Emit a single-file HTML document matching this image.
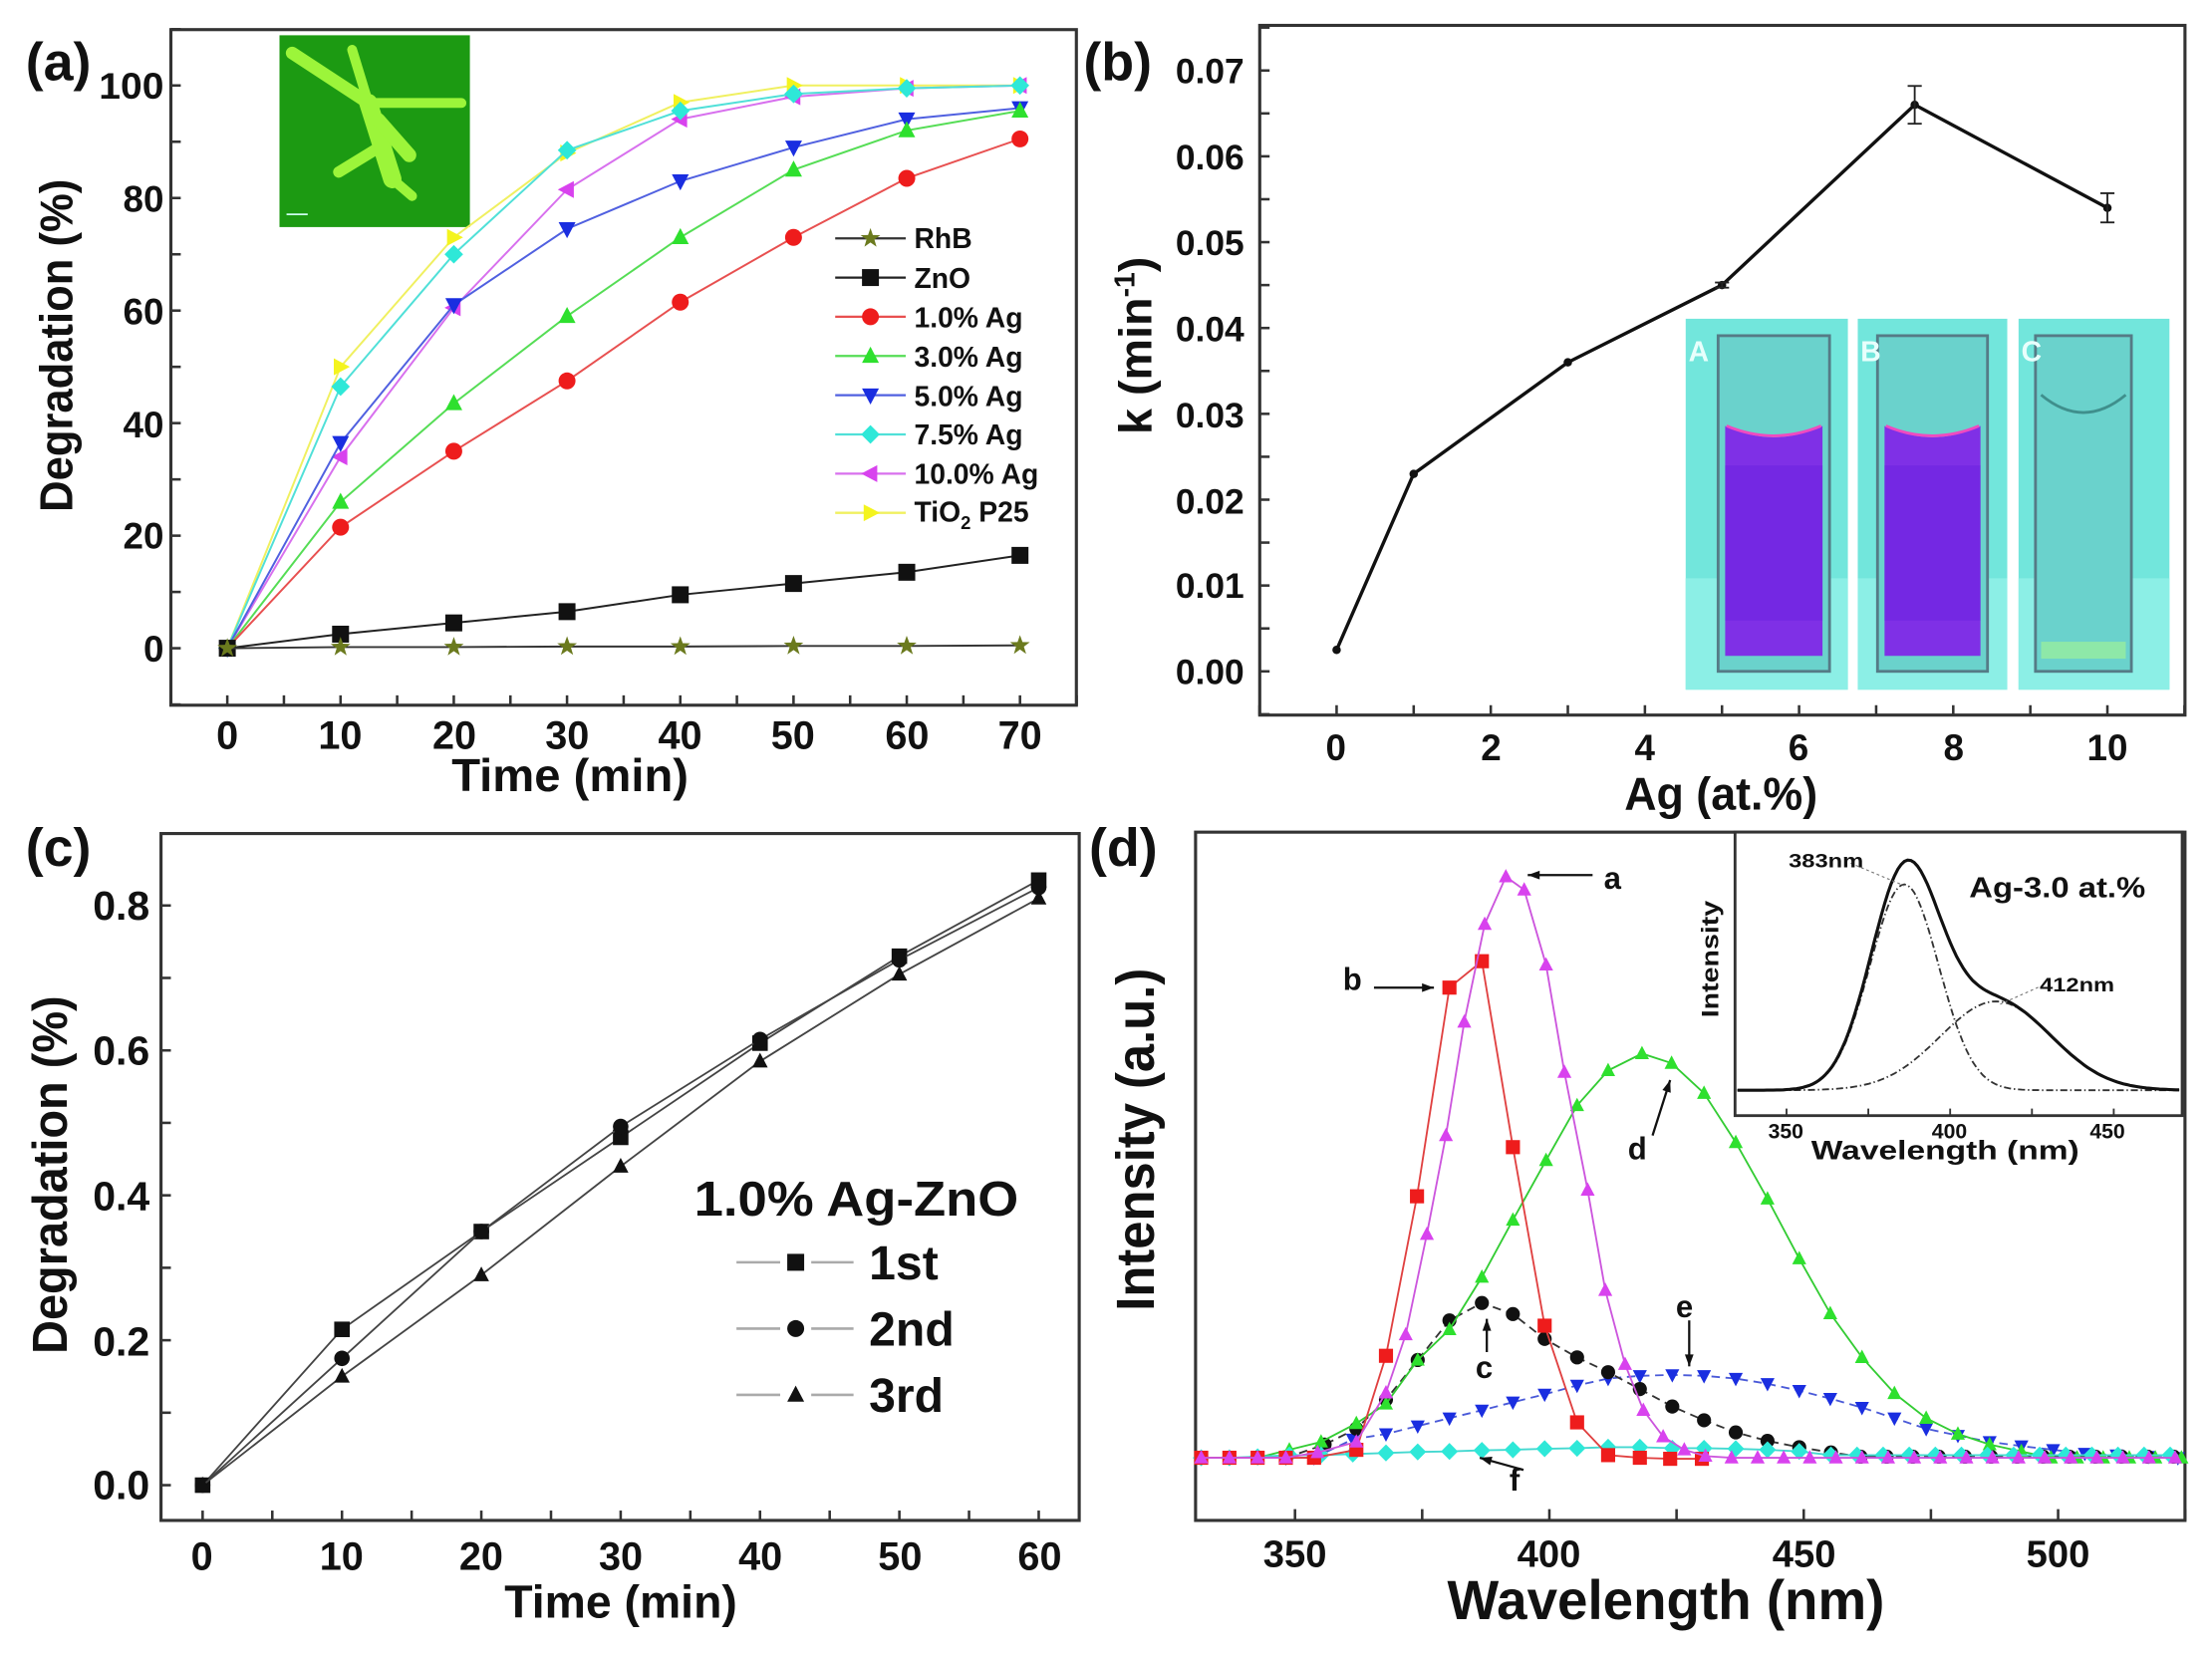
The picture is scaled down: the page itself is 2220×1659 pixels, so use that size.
<!DOCTYPE html>
<html><head><meta charset="utf-8"><style>
html,body{margin:0;padding:0;background:#fff;}
svg{display:block;}
text{font-family:"Liberation Sans",Arial,sans-serif;fill:#111;}
.b{font-weight:bold;}
</style></head><body>
<svg id="s" width="2220" height="1659" viewBox="0 0 1568 1172" xmlns="http://www.w3.org/2000/svg">
<rect width="1568" height="1172" fill="#fff"/>
<g id="shapes"></g>
<!-- Panel a text -->
<text x="18" y="57" class="b" font-size="38">(a)</text>
<g class="b" font-size="26" text-anchor="end">
<text x="116" y="70" textLength="46" lengthAdjust="spacingAndGlyphs">100</text>
<text x="116" y="150">80</text>
<text x="116" y="230">60</text>
<text x="116" y="310">40</text>
<text x="116" y="389">20</text>
<text x="116" y="469">0</text>
</g>
<g class="b" font-size="28" text-anchor="middle">
<text x="161" y="531">0</text><text x="241" y="531">10</text><text x="322" y="531">20</text><text x="402" y="531">30</text>
<text x="482" y="531">40</text><text x="562" y="531">50</text><text x="643" y="531">60</text><text x="723" y="531">70</text>
</g>
<text x="404" y="561" class="b" font-size="33" text-anchor="middle" textLength="168" lengthAdjust="spacingAndGlyphs">Time (min)</text>
<text transform="translate(51,245) rotate(-90)" font-size="33" text-anchor="middle" textLength="236" lengthAdjust="spacingAndGlyphs" style="font-weight:600">Degradation (%)</text>
<g class="b" font-size="20">
<text x="648" y="176">RhB</text><text x="648" y="204">ZnO</text><text x="648" y="232">1.0% Ag</text>
<text x="648" y="260">3.0% Ag</text><text x="648" y="288">5.0% Ag</text><text x="648" y="315">7.5% Ag</text>
<text x="648" y="343">10.0% Ag</text><text x="648" y="370">TiO<tspan font-size="13" dy="5">2</tspan><tspan dy="-5"> P25</tspan></text>
</g>
<!-- Panel b text -->
<text x="768" y="57" class="b" font-size="38">(b)</text>
<g class="b" font-size="25" text-anchor="end">
<text x="882" y="59">0.07</text><text x="882" y="120">0.06</text><text x="882" y="181">0.05</text><text x="882" y="242">0.04</text>
<text x="882" y="303">0.03</text><text x="882" y="364">0.02</text><text x="882" y="424">0.01</text><text x="882" y="485">0.00</text>
</g>
<g class="b" font-size="26" text-anchor="middle">
<text x="947" y="539">0</text><text x="1057" y="539">2</text><text x="1166" y="539">4</text>
<text x="1275" y="539">6</text><text x="1385" y="539">8</text><text x="1494" y="539">10</text>
</g>
<text x="1220" y="574" class="b" font-size="33" text-anchor="middle" textLength="137" lengthAdjust="spacingAndGlyphs">Ag (at.%)</text>
<text transform="translate(816,245) rotate(-90)" class="b" font-size="33" text-anchor="middle">k (min<tspan font-size="20" dy="-12">-1</tspan><tspan dy="12">)</tspan></text>
<!-- Panel c text -->
<text x="18" y="614" class="b" font-size="38">(c)</text>
<g class="b" font-size="29" text-anchor="end">
<text x="106" y="652">0.8</text><text x="106" y="755">0.6</text><text x="106" y="858">0.4</text>
<text x="106" y="961">0.2</text><text x="106" y="1063">0.0</text>
</g>
<g class="b" font-size="28" text-anchor="middle">
<text x="143" y="1113">0</text><text x="242" y="1113">10</text><text x="341" y="1113">20</text><text x="440" y="1113">30</text>
<text x="539" y="1113">40</text><text x="638" y="1113">50</text><text x="737" y="1113">60</text>
</g>
<text x="440" y="1147" class="b" font-size="33" text-anchor="middle" textLength="165" lengthAdjust="spacingAndGlyphs">Time (min)</text>
<text transform="translate(47,833) rotate(-90)" class="b" font-size="35" text-anchor="middle" textLength="254" lengthAdjust="spacingAndGlyphs">Degradation (%)</text>
<text x="492" y="862" class="b" font-size="35" textLength="230" lengthAdjust="spacingAndGlyphs">1.0% Ag-ZnO</text>
<g class="b" font-size="34">
<text x="616" y="907">1st</text><text x="616" y="954">2nd</text><text x="616" y="1001">3rd</text>
</g>
<!-- Panel d text -->
<text x="772" y="614" class="b" font-size="38">(d)</text>
<g class="b" font-size="27" text-anchor="middle">
<text x="918" y="1111">350</text><text x="1098" y="1111">400</text><text x="1279" y="1111">450</text><text x="1459" y="1111">500</text>
</g>
<text x="1181" y="1148" class="b" font-size="39" text-anchor="middle" textLength="310" lengthAdjust="spacingAndGlyphs">Wavelength (nm)</text>
<text transform="translate(818,808) rotate(-90)" class="b" font-size="38" text-anchor="middle" textLength="243" lengthAdjust="spacingAndGlyphs">Intensity (a.u.)</text>
<g class="b" font-size="22">
<text x="1137" y="630">a</text><text x="952" y="702">b</text><text x="1046" y="977">c</text>
<text x="1154" y="822">d</text><text x="1188" y="934">e</text><text x="1070" y="1057">f</text>
</g>
<!-- inset d text -->
<g class="b" font-size="15" text-anchor="middle">
<text x="1266" y="807">350</text><text x="1382" y="807">400</text><text x="1494" y="807">450</text>
</g>
<text x="1379" y="822" class="b" font-size="19" text-anchor="middle" textLength="190" lengthAdjust="spacingAndGlyphs">Wavelength (nm)</text>
<text transform="translate(1218,680) rotate(-90)" class="b" font-size="17" text-anchor="middle" textLength="83" lengthAdjust="spacingAndGlyphs">Intensity</text>
<text x="1396" y="636" class="b" font-size="20" textLength="125" lengthAdjust="spacingAndGlyphs">Ag-3.0 at.%</text>
<text x="1268" y="615" class="b" font-size="14" textLength="53" lengthAdjust="spacingAndGlyphs">383nm</text>
<text x="1446" y="703" class="b" font-size="14" textLength="53" lengthAdjust="spacingAndGlyphs">412nm</text>
<g id="photoText" font-size="20" class="b">
<text x="1197" y="256" style="fill:#e8fffc">A</text><text x="1319" y="256" style="fill:#e8fffc">B</text><text x="1433" y="256" style="fill:#e8fffc">C</text>
</g>
</svg>
<script>
(function(){
var NS="http://www.w3.org/2000/svg",G=document.getElementById('shapes');
function el(t,a,p){var e=document.createElementNS(NS,t);for(var k in a)e.setAttribute(k,a[k]);(p||G).appendChild(e);return e;}
function line(x1,y1,x2,y2,c,w,extra){var a={x1:x1,y1:y1,x2:x2,y2:y2,stroke:c||'#222','stroke-width':w||1.5};for(var k in extra)a[k]=extra[k];return el('line',a);}
function pl(pts,c,w,extra){var a={points:pts.map(function(p){return p[0].toFixed(1)+','+p[1].toFixed(1)}).join(' '),fill:'none',stroke:c,'stroke-width':w||1.3};for(var k in extra)a[k]=extra[k];return el('polyline',a);}
function mk(type,x,y,s,fill,stroke){
 var h=s/2,st=stroke||'none',sw=stroke?0.8:0;
 if(type=='sq')return el('rect',{x:x-h,y:y-h,width:s,height:s,fill:fill,stroke:st,'stroke-width':sw});
 if(type=='ci')return el('circle',{cx:x,cy:y,r:h,fill:fill,stroke:st,'stroke-width':sw});
 var p;
 if(type=='tu')p=[[x,y-h*1.1],[x+h,y+h*0.8],[x-h,y+h*0.8]];
 if(type=='td')p=[[x,y+h*1.1],[x+h,y-h*0.8],[x-h,y-h*0.8]];
 if(type=='tl')p=[[x-h*1.1,y],[x+h*0.8,y-h],[x+h*0.8,y+h]];
 if(type=='tr')p=[[x+h*1.1,y],[x-h*0.8,y-h],[x-h*0.8,y+h]];
 if(type=='di')p=[[x,y-h*1.1],[x+h*1.1,y],[x,y+h*1.1],[x-h*1.1,y]];
 if(type=='st'){p=[];for(var i=0;i<10;i++){var r=i%2?h*0.42:h*1.05,an=-Math.PI/2+i*Math.PI/5;p.push([x+r*Math.cos(an),y+r*Math.sin(an)]);}}
 return el('polygon',{points:p.map(function(q){return q[0].toFixed(1)+','+q[1].toFixed(1)}).join(' '),fill:fill,stroke:st,'stroke-width':sw});
}
function box(x1,y1,x2,y2){el('rect',{x:x1,y:y1,width:x2-x1,height:y2-y1,fill:'none',stroke:'#333','stroke-width':2.2});}
function xt(X,vals,y2,len){vals.forEach(function(v){line(X(v),y2,X(v),y2-len,'#333',1.8);});}
function yt(Y,vals,x1,len){vals.forEach(function(v){line(x1,Y(v),x1+len,Y(v),'#333',1.8);});}
function rng(a,b,s){var r=[];for(var v=a;v<=b+1e-9;v+=s)r.push(v);return r;}

/* ---------- Panel a ---------- */
var AX=function(t){return 161+t*8.029},AY=function(v){return 459.6-v*3.99};
el('rect',{x:198,y:25,width:135,height:136,fill:'#1c9a12'});
var br=[[[207,37.6],[261,73],9],[[249.5,35.3],[261,73],7],[[261,73],[327,73],7],[[261,73],[278,127],13],[[278,127],[292,139],7],[[240,122],[271,103],8],[[268,85],[290,110],10]];
br.forEach(function(b){line(b[0][0],b[0][1],b[1][0],b[1][1],'#9cf53a',b[2],{'stroke-linecap':'round'});});
line(203,152,218,152,'#cfe',1.2);
box(121,21,763,500);
xt(AX,rng(-5,75,5),500,7);yt(AY,rng(-10,110,10),121,7);
var T=[0,10,20,30,40,50,60,70];
var A=[
 ['st','#6b7a1e','#333',[0,0.2,0.2,0.3,0.3,0.4,0.4,0.5]],
 ['sq','#111','#222',[0,2.5,4.5,6.5,9.5,11.5,13.5,16.5]],
 ['ci','#ee1c1c','#e85050',[0,21.5,35,47.5,61.5,73,83.5,90.5]],
 ['tu','#2ee02e','#55dd55',[0,26,43.5,59,73,85,92,95.5]],
 ['td','#1a2ee0','#5060e0',[0,36.5,61,74.5,83,89,94,96]],
 ['di','#2ee8d8','#50e0d8',[0,46.5,70,88.5,95.5,98.5,99.5,100]],
 ['tl','#d842ee','#d870ee',[0,34,60.5,81.5,94,98,99.5,100]],
 ['tr','#f4f41e','#f0f060',[0,50,73,88,97,100,100,100]]];
A.slice().reverse().forEach(function(s){
 var pts=T.map(function(t,i){return [AX(t),AY(s[3][i])]});
 pl(pts,s[2],1.4);
 pts.forEach(function(p){mk(s[0],p[0],p[1],s[0]=='st'?14:12,s[1]);});
});
A.forEach(function(s,i){var y=169+i*27.8;line(592,y,642,y,s[2],1.6);mk(s[0],617,y,s[0]=='st'?14:12,s[1]);});

/* ---------- Panel b ---------- */
var BX=function(a){return 947.5+a*54.65},BY=function(k){return 476-k*6086};
el('rect',{x:1195,y:226,width:343,height:263,fill:'#fff'});
[[1195,1310],[1317,1423],[1431,1538]].forEach(function(r,i){
 el('rect',{x:r[0],y:226,width:r[1]-r[0],height:263,fill:'#72e6dc'});
 el('rect',{x:r[0],y:410,width:r[1]-r[0],height:79,fill:'#8cefe6'});
 var cx0=r[0]+(i==0?23:i==1?14:12),cx1=r[1]-(i==0?13:i==1?14:27);
 el('rect',{x:cx0,y:238,width:cx1-cx0,height:238,fill:'#6ad2cc',stroke:'#557b86','stroke-width':2});
 if(i<2){
  el('path',{d:'M'+(cx0+5)+' 302 Q'+((cx0+cx1)/2)+' 318 '+(cx1-5)+' 302 L'+(cx1-5)+' 465 L'+(cx0+5)+' 465 Z',fill:'#7f30e6'});
  el('path',{d:'M'+(cx0+6)+' 302 Q'+((cx0+cx1)/2)+' 316 '+(cx1-6)+' 302',fill:'none',stroke:'#f04ac0','stroke-width':2});
  el('rect',{x:cx0+5,y:330,width:cx1-cx0-10,height:110,fill:'#6a20e0',opacity:0.5});
 } else {
  el('path',{d:'M'+(cx0+4)+' 280 Q'+((cx0+cx1)/2)+' 305 '+(cx1-4)+' 280',fill:'none',stroke:'#3f8f8c','stroke-width':2});
  el('rect',{x:cx0+4,y:455,width:cx1-cx0-8,height:12,fill:'#8ee8a8'});
 }
});
box(893,18,1549,507);
xt(BX,rng(-1,11,1),507,7);yt(BY,rng(-0.005,0.075,0.005),893,7);
var bd=[[0,0.0025],[1,0.023],[3,0.036],[5,0.045],[7.5,0.066],[10,0.054]];
pl(bd.map(function(p){return [BX(p[0]),BY(p[1])]}),'#111',2.4);
bd.forEach(function(p){mk('ci',BX(p[0]),BY(p[1]),6,'#111');});
[[7.5,0.066,0.0022],[10,0.054,0.0017],[5,0.045,0.0003]].forEach(function(e){
 var x=BX(e[0]);line(x,BY(e[1]+e[2]),x,BY(e[1]-e[2]),'#222',1.3);
 line(x-5,BY(e[1]+e[2]),x+5,BY(e[1]+e[2]),'#222',1.3);line(x-5,BY(e[1]-e[2]),x+5,BY(e[1]-e[2]),'#222',1.3);});

/* ---------- Panel c ---------- */
var CX=function(t){return 143.5+t*9.88},CY=function(v){return 1053-v*513.75};
box(114,591,765,1078);
xt(CX,rng(0,60,5),1078,7);yt(CY,rng(0,0.8,0.1),114,7);
var TC=[0,10,20,30,40,50,60];
var C=[['sq',[0,0.215,0.35,0.48,0.61,0.73,0.835]],['ci',[0,0.175,0.35,0.495,0.615,0.725,0.825]],['tu',[0,0.15,0.29,0.44,0.585,0.705,0.81]]];
C.forEach(function(s){var pts=TC.map(function(t,i){return [CX(t),CY(s[1][i])]});pl(pts,'#444',1.3);pts.forEach(function(p){mk(s[0],p[0],p[1],11,'#111');});});
C.forEach(function(s,i){var y=895+i*47;line(522,y,553,y,'#aaa',1.8);line(575,y,605,y,'#aaa',1.8);mk(s[0],564,y,12,'#111');});

/* ---------- Panel d ---------- */
var DX=function(z){return 784+z/2},DY=function(z){return 586+z/2.67};
box(847.5,590,1549,1078);
xt(function(w){return 918+(w-350)*3.607},rng(350,525,25),1078,8);
function series(arr,type,fill,stroke,dash){
 var pts=arr.map(function(p){return [DX(p[0]),DY(p[1])]});
 pl(pts,stroke,1.3,dash?{'stroke-dasharray':dash}:{});
 pts.forEach(function(p){mk(type,p[0],p[1],type=='di'?11:10,fill);});
}
function ext(arr,from,to,y){var r=arr.slice();for(var z=from;z<=to;z+=37)r.push([z,y]);return r;}
function pre(from,to,y){var r=[];for(var z=from;z<=to;z+=40)r.push([z,y]);return r;}
var f=pre(135,135,1195).concat([[175,1195],[215,1193],[260,1190],[305,1190],[350,1188],[397,1186],[442,1184],[487,1183],[533,1181],[577,1180],[622,1178],[668,1177],[712,1175],[757,1175],[803,1177],[848,1177],[893,1178],[938,1180],[983,1183]]);
f=ext(f,1028,1525,1190);
var e=pre(135,310,1195).concat([[350,1160],[397,1150],[442,1135],[487,1120],[533,1105],[577,1090],[622,1075],[668,1058],[712,1045],[757,1040],[803,1038],[848,1040],[893,1045],[938,1055],[983,1068],[1027,1083],[1072,1100],[1118,1120],[1163,1140],[1208,1153],[1253,1165],[1298,1173],[1343,1180],[1388,1187],[1433,1190],[1478,1193],[1520,1195]]);
var c=pre(135,270,1195).concat([[310,1170],[355,1140],[397,1085],[442,1010],[487,935],[533,902],[577,923],[622,970],[668,1005],[712,1033],[757,1065],[803,1098],[848,1124],[893,1147],[938,1163],[983,1175],[1028,1185]]);
c=ext(c,1070,1525,1193);
var d=pre(135,220,1195).concat([[260,1180],[305,1165],[355,1130],[397,1093],[442,1010],[487,952],[533,853],[577,745],[624,632],[668,528],[712,462],[760,430],[802,448],[848,505],[893,598],[938,705],[983,818],[1027,922],[1072,1005],[1118,1073],[1163,1120],[1208,1150],[1253,1170],[1298,1183]]);
d=ext(d,1340,1525,1195);
var b=pre(135,320,1195).concat([[355,1180],[397,1002],[441,700],[487,305],[533,255],[577,607],[622,945],[668,1128],[712,1190],[757,1195],[800,1197],[845,1197]]);
var a=pre(135,260,1195).concat([[300,1185],[355,1165],[397,1072],[425,962],[455,772],[482,585],[508,370],[537,185],[567,95],[593,120],[624,262],[650,465],[683,688],[708,878],[736,1018],[762,1105],[790,1155],[820,1180],[850,1192]]);
a=ext(a,887,1525,1195);
series(e,'td','#1a2ee0','#4a5ad8','6,4');
series(c,'ci','#111','#333','6,4');
series(d,'tu','#2ee02e','#33cc33');
series(f,'di','#2ee8d8','#44d8d0');
series(b,'sq','#ee1c1c','#e04040');
series(a,'tu','#d842ee','#cc55dd');
function arrow(x1,y1,x2,y2){line(x1,y1,x2,y2,'#111',1.6);var an=Math.atan2(y2-y1,x2-x1),L=9;
 el('polygon',{points:[[x2,y2],[x2-L*Math.cos(an-0.35),y2-L*Math.sin(an-0.35)],[x2-L*Math.cos(an+0.35),y2-L*Math.sin(an+0.35)]].map(function(p){return p.join(',')}).join(' '),fill:'#111'});}
arrow(DX(690),DY(92),DX(598),DY(92));
arrow(DX(380),DY(305),DX(465),DY(305));
arrow(DX(540),DY(995),DX(540),DY(932));
arrow(DX(775),DY(585),DX(800),DY(480));
arrow(DX(827),DY(935),DX(827),DY(1022));
arrow(DX(592),DY(1218),DX(530),DY(1195));
el('rect',{x:1230,y:590,width:317,height:201,fill:'#fff',stroke:'#333','stroke-width':2});
var IX=function(w){return 1266.5+(w-350)*2.32};
[350,375,400,425,450].forEach(function(w){line(IX(w),791,IX(w),786,'#333',1.3);});
var g1=[],g2=[],gt=[];
for(var w=335;w<=484;w+=1){var v1=146*Math.exp(-Math.pow(w-386,2)/(2*10.5*10.5)),v2=63*Math.exp(-Math.pow(w-414,2)/(2*17*17));
 var x=IX(w);if(x<1231||x>1546)continue;g1.push([x,773-v1]);g2.push([x,773-v2]);gt.push([x,773-v1-v2]);}
pl(g1,'#333',1.3,{'stroke-dasharray':'5,2,1,2'});pl(g2,'#333',1.3,{'stroke-dasharray':'5,2,1,2'});pl(gt,'#111',2.2);
line(1312,612,1350,628,'#777',0.8,{'stroke-dasharray':'2,2'});line(1445,700,1418,712,'#777',0.8,{'stroke-dasharray':'2,2'});
})();
</script>
</body></html>
